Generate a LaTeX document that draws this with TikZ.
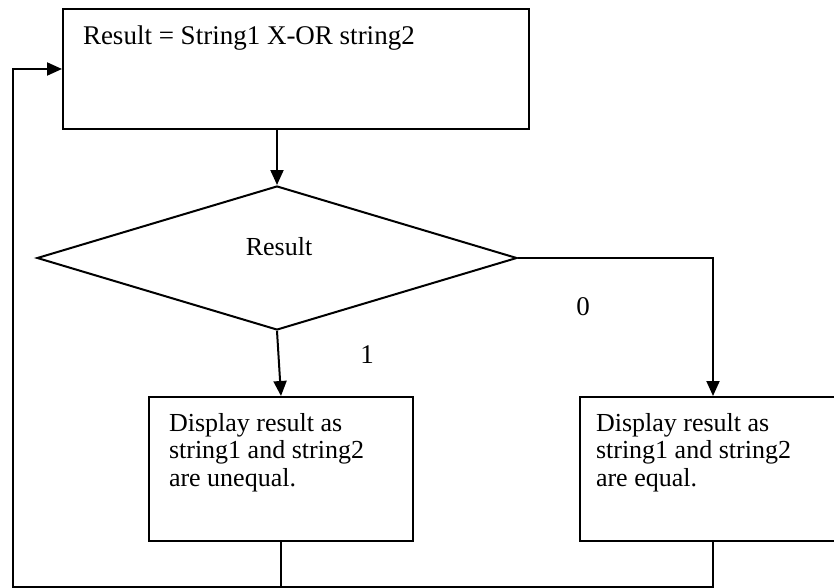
\documentclass[tikz,border=0pt]{standalone}
\usepackage{fontspec}
\setmainfont{Liberation Serif}
\usetikzlibrary{arrows.meta,shapes.geometric,calc}

\begin{document}
\begin{tikzpicture}[x=1pt,y=-1pt,
  line width=2pt,
  arr/.style={-{Triangle[length=15pt,width=13pt]}},
  box/.style={draw,rectangle,inner sep=0pt,anchor=north west},
  txt/.style={inner sep=0pt,anchor=base west,align=left,
    font=\fontsize{26}{27.5}\selectfont},
  lbl/.style={inner sep=0pt,anchor=base,font=\fontsize{27}{31}\selectfont}]
  \useasboundingbox (0,0) rectangle (834,588);

  % process box: XOR of the two strings
  \node[box,minimum width=466pt,minimum height=120pt] (top) at (62,8) {};
  \node[txt,font=\fontsize{27}{31}\selectfont] (toptxt) at (82,45)
    {Result = String1 X-OR string2};

  % decision on the result
  \node[draw,diamond,inner sep=0pt,minimum width=480pt,minimum height=144pt]
    (dec) at (277,258) {};
  \node[lbl,font=\fontsize{26}{31}\selectfont] (dectxt) at (279,255) {Result};

  % output boxes (base anchor of a multi-line node sits on its last line)
  \node[box,minimum width=264pt,minimum height=144pt] (lbox) at (148,396) {};
  \node[txt] (ltxt) at (168,486)
    {Display result as\\string1 and string2\\are unequal.};
  \node[box,minimum width=266pt,minimum height=144pt] (rbox) at (579,396) {};
  \node[txt] (rtxt) at (595,486)
    {Display result as\\string1 and string2\\are equal.};

  % branch labels
  \node[lbl] (one) at (367,363) {1};
  \node[lbl] (zero) at (583,315) {0};

  % flow
  \draw[arr] (dec.north |- top.south) -- (dec.north);
  \draw[arr] (dec.south) -- (lbox.north);
  \draw[arr] (dec.east) -| (rbox.north);

  % return loop
  \coordinate (loopc) at (13,587);
  \draw (rbox.south) |- (lbox.south |- loopc);
  \draw[arr] (lbox.south) |- (loopc) |- (top.west);
\end{tikzpicture}
\end{document}
